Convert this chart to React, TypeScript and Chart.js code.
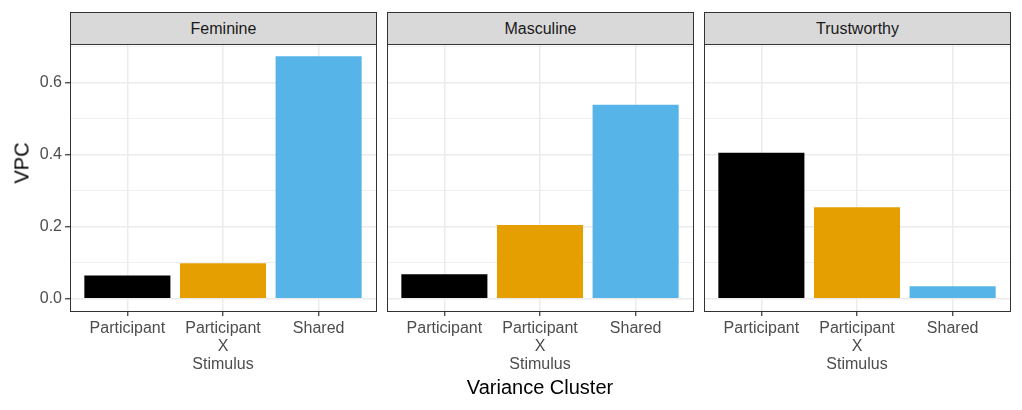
import { useEffect, useRef } from "react";
import { Chart, registerables, type ChartConfiguration } from "chart.js";

Chart.register(...registerables);

const facetNames = ["Feminine", "Masculine", "Trustworthy"];
const clusterLabels: (string | string[])[] = ["Participant", ["Participant", "X", "Stimulus"], "Shared"];
const clusterColors = ["#000000", "#E69F00", "#56B4E9"];
const feminineVpc = [0.065, 0.099, 0.673];
const masculineVpc = [0.068, 0.205, 0.538];
const trustworthyVpc = [0.405, 0.254, 0.035];
const yTickValues = [0, 0.1, 0.2, 0.3, 0.4, 0.5, 0.6, 0.7];

const facetValues = [feminineVpc, masculineVpc, trustworthyVpc];

// ggplot-style 5% expansion on the y range
const allValues = [...feminineVpc, ...masculineVpc, ...trustworthyVpc];
const yTop = Math.max(...allValues);
const yMin = -0.05 * yTop;
const yMax = yTop * 1.05;

const FONT = "'Liberation Sans', Arial, Helvetica, sans-serif";
const STRIP_TOP = 12;
const PANEL_TOP = 44;
const PANEL_BOTTOM = 311;
const PANEL_WIDTH = 306;
const PANEL_LEFTS = [70, 387, 704];
const CANVAS_HEIGHT = 410 - PANEL_TOP;

function isMajor(value: number) {
  return Math.round(value * 10) % 2 === 0;
}

function FacetPanel({ index }: { index: number }) {
  const canvasRef = useRef<HTMLCanvasElement | null>(null);
  const chartRef = useRef<Chart<"bar"> | null>(null);
  const showY = index === 0;
  const axisWidth = showY ? PANEL_LEFTS[0] : 0;
  const canvasLeft = PANEL_LEFTS[index] - axisWidth;
  const canvasWidth = PANEL_WIDTH + axisWidth;

  useEffect(() => {
    const canvas = canvasRef.current;
    if (!canvas) {
      return;
    }
    const values = facetValues[index];

    const config: ChartConfiguration<"bar"> = {
      type: "bar",
      data: {
        datasets: [
          {
            label: facetNames[index],
            data: values.map((value, i) => ({ x: i + 1, y: value })) as any,
            backgroundColor: clusterColors,
            borderWidth: 0,
            categoryPercentage: 1,
            barPercentage: 0.9
          }
        ]
      },
      options: {
        responsive: false,
        animation: false,
        layout: { padding: 0 },
        plugins: {
          legend: { display: false },
          tooltip: { enabled: false },
          title: { display: false }
        },
        scales: {
          x: {
            type: "linear",
            min: 0.4,
            max: 3.6,
            offset: false,
            afterBuildTicks: (scale) => {
              scale.ticks = clusterLabels.map((_, i) => ({ value: i + 1 }));
            },
            afterFit: (scale) => {
              scale.height = CANVAS_HEIGHT - (PANEL_BOTTOM - PANEL_TOP);
              scale.paddingLeft = 0;
              scale.paddingRight = 0;
            },
            border: { display: false },
            grid: {
              offset: false,
              color: "#EBEBEB",
              lineWidth: 1.5,
              drawTicks: true,
              tickLength: 5,
              tickColor: "#333333",
              tickWidth: 1.2
            },
            ticks: {
              autoSkip: false,
              maxRotation: 0,
              padding: 3,
              color: "#4D4D4D",
              font: { family: FONT, size: 16, lineHeight: 1.15 },
              callback: (value) => clusterLabels[Number(value) - 1] ?? ""
            }
          },
          y: {
            type: "linear",
            min: yMin,
            max: yMax,
            afterBuildTicks: (scale) => {
              scale.ticks = yTickValues.map((value) => ({ value }));
            },
            afterFit: (scale) => {
              scale.width = axisWidth;
              scale.paddingTop = 0;
              scale.paddingBottom = 0;
            },
            border: { display: false },
            grid: {
              color: "#EBEBEB",
              lineWidth: (ctx) => (isMajor(ctx.tick?.value ?? 0) ? 1.5 : 0.8),
              drawTicks: showY,
              tickLength: 5,
              tickColor: (ctx) => (isMajor(ctx.tick?.value ?? 0) ? "#333333" : "rgba(0,0,0,0)"),
              tickWidth: 1.2
            },
            ticks: {
              display: showY,
              padding: 3,
              color: "#4D4D4D",
              font: { family: FONT, size: 16 },
              callback: (value) => (isMajor(Number(value)) ? Number(value).toFixed(1) : "")
            }
          }
        }
      }
    };

    chartRef.current?.destroy();
    chartRef.current = new Chart(canvas, config);

    return () => {
      chartRef.current?.destroy();
      chartRef.current = null;
    };
  }, [index]);

  const left = PANEL_LEFTS[index];

  return (
    <>
      <canvas
        ref={canvasRef}
        width={canvasWidth}
        height={CANVAS_HEIGHT}
        style={{
          position: "absolute",
          left: canvasLeft,
          top: PANEL_TOP,
          width: canvasWidth,
          height: CANVAS_HEIGHT
        }}
      />
      <div
        style={{
          position: "absolute",
          left,
          top: PANEL_TOP,
          width: PANEL_WIDTH + 1,
          height: PANEL_BOTTOM - PANEL_TOP + 1,
          border: "1px solid #333333",
          boxSizing: "border-box",
          pointerEvents: "none"
        }}
      />
      <div
        style={{
          position: "absolute",
          left,
          top: STRIP_TOP,
          width: PANEL_WIDTH + 1,
          height: PANEL_TOP - STRIP_TOP + 1,
          border: "1px solid #333333",
          boxSizing: "border-box",
          background: "#D9D9D9",
          color: "#1A1A1A",
          fontFamily: FONT,
          fontSize: 16,
          display: "flex",
          alignItems: "center",
          justifyContent: "center"
        }}
      >
        {facetNames[index]}
      </div>
    </>
  );
}

export default function App() {
  return (
    <div
      style={{
        position: "absolute",
        left: 0,
        top: 0,
        width: 1022,
        height: 410,
        background: "#FFFFFF",
        overflow: "hidden"
      }}
    >
      {facetNames.map((_, i) => (
        <FacetPanel key={i} index={i} />
      ))}
      <div
        style={{
          position: "absolute",
          left: 22,
          top: 163,
          transform: "translate(-50%, -50%) rotate(-90deg)",
          fontFamily: FONT,
          fontSize: 20,
          color: "#000000",
          whiteSpace: "nowrap"
        }}
      >
        VPC
      </div>
      <div
        style={{
          position: "absolute",
          left: 540,
          top: 387,
          transform: "translate(-50%, -50%)",
          fontFamily: FONT,
          fontSize: 20,
          color: "#000000",
          whiteSpace: "nowrap"
        }}
      >
        Variance Cluster
      </div>
    </div>
  );
}
